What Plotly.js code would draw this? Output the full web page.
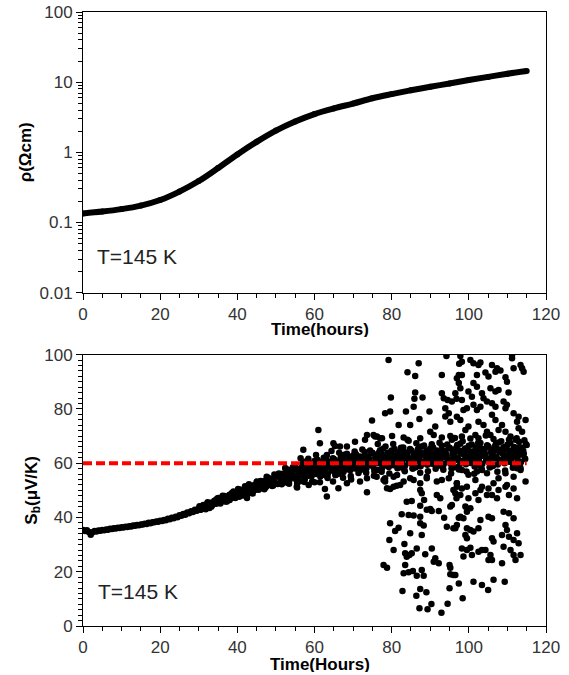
<!DOCTYPE html>
<html>
<head>
<meta charset="utf-8">
<script src="https://cdn.plot.ly/plotly-3.0.1.min.js"></script>
<style>html,body{margin:0;padding:0;background:#fff;}#chart{width:569px;height:675px;}</style>
</head>
<body>
<div id="chart"></div>
<script>
// ---- Top panel: resistivity vs time (log scale) ----
const rhoTime = [0, 5, 10, 15, 20, 25, 30, 35, 40, 45, 50, 55, 60, 65, 70, 75, 80, 85, 90, 95, 100, 105, 110, 115];
const rhoValue = [0.1346, 0.1429, 0.1549, 0.1738, 0.2089, 0.2754, 0.389, 0.5957, 0.933, 1.41, 2.04, 2.75, 3.51, 4.22, 4.95, 5.89, 6.76, 7.67, 8.61, 9.55, 10.72, 11.89, 13.18, 14.45];
const rhoTickVals = [0.01, 0.1, 1, 10, 100];
const rhoTickText = ['0.01', '0.1', '1', '10', '100'];

// ---- Bottom panel: Seebeck coefficient vs time ----
const sbEarlyTime = [
  0,0.5,1,1.5,2,2.5,3,3.5,4,4.5, 5,5.5,6,6.5,7,7.5,8,8.5,9,9.5,
  10,10.5,11,11.5,12,12.5,13,13.5,14,14.5, 15,15.5,16,16.5,17,17.5,18,18.5,19,19.5,
  20,20.5,21,21.5,22,22.5,23,23.5,24,24.5, 25,25.5,26,26.5,27,27.5,28,28.5,29,29.5,
  30,30.5,31,31.5,32,32.5,33,33.5,34,34.5, 35,35.5,36,36.5,37,37.5,38,38.5,39,39.5,
  40,40.5,41,41.5,42,42.5,43,43.5,44,44.5, 45,45.5,46,46.5,47,47.5,48,48.5,49,49.5, 50
];
const sbEarlyValue = [
  35.4,35.0,35.3,34.6,33.6,34.5,35.0,34.8,35.2,35.1, 35.4,35.3,35.6,35.5,35.8,35.7,36.0,35.9,36.2,36.1,
  36.4,36.3,36.6,36.5,36.8,36.7,37.0,36.9,37.2,37.1, 37.4,37.4,37.7,37.6,38.0,37.9,38.2,38.2,38.5,38.4,
  38.8,38.7,39.1,39.0,39.5,39.3,39.9,39.7,40.3,40.1, 40.8,40.6,41.3,41.0,41.8,41.5,42.3,42.0,42.8,42.5,
  43.3,42.8,44.0,43.4,44.9,43.9,45.2,44.6,46.1,45.0, 46.4,45.8,47.3,46.0,47.6,46.8,48.4,47.2,48.9,47.9,
  49.5,47.6,50.1,48.6,50.6,47.2,51.2,49.6,51.8,50.2, 52.3,50.6,52.6,51.0,53.4,51.5,53.8,52.1,54.3,52.4, 55.0
];
const sbEarlyExtraTime = [
  31.2,32.8,34.3,35.1,36.2,37.0,38.0,39.0,40.2,41.0,42.0,43.0,44.0,45.0,46.0,47.0,47.6,48.0,49.0,49.6,
  30.2,31.8,32.3,33.3,34.8,35.6,36.7,37.3,38.6,39.5,40.7,41.5,42.7,43.5,44.6,45.5,46.4,47.3,48.4,49.3,
  30.1,30.6,31.1,31.6,32.1,32.6,33.1,33.6,34.1,34.6,35.1,35.6,36.1,36.6,37.1,37.6,38.1,38.6,39.1,39.6,
  40.1,40.6,41.1,41.6,42.1,42.6,43.1,43.6,44.1,44.6,45.1,45.6,46.1,46.6,47.1,47.6,48.1,48.6,49.1,49.6
];
const sbEarlyExtraValue = [
  44.6,43.5,46.3,47.2,48.0,45.9,46.4,49.6,50.5,48.2,51.5,52.2,48.8,53.2,53.4,50.4,55.0,54.6,51.6,55.8,
  44.1,43.0,45.6,44.0,47.0,45.1,47.9,45.9,49.0,47.2,50.2,48.1,51.0,49.0,52.0,50.2,53.1,51.0,54.0,51.8,
  43.4,43.0,44.3,43.8,44.7,44.0,45.4,44.9,45.7,45.3,46.7,46.0,47.0,46.2,47.6,47.1,48.3,47.3,48.4,47.6,
  49.2,48.4,49.9,48.7,49.9,49.0,50.6,50.0,51.3,50.2,51.5,50.5,52.2,51.4,52.9,51.8,53.0,52.1,53.7,53.0
];

const sbBandTime = [
  50,50.25,50.5,50.75,51,51.25,51.5,51.75,52,52.25,52.5,52.75,53,53.25,53.5,53.75,54,54.25,54.5,54.75,
  55,55.25,55.5,55.75,56,56.25,56.5,56.75,57,57.25,57.5,57.75,58,58.25,58.5,58.75,59,59.25,59.5,59.75,
  60,60.25,60.5,60.75,61,61.25,61.5,61.75,62,62.25,62.5,62.75,63,63.25,63.5,63.75,64,64.25,64.5,64.75,
  65,65.25,65.5,65.75,66,66.25,66.5,66.75,67,67.25,67.5,67.75,68,68.25,68.5,68.75,69,69.25,69.5,69.75,
  70,70.25,70.5,70.75,71,71.25,71.5,71.75,72,72.25,72.5,72.75,73,73.25,73.5,73.75,74,74.25,74.5,74.75,
  75,75.25,75.5,75.75,76,76.25,76.5,76.75,77,77.25,77.5,77.75,78,78.25,78.5,78.75,79,79.25,79.5,79.75,
  80,80.25,80.5,80.75,81,81.25,81.5,81.75,82,82.25,82.5,82.75,83,83.25,83.5,83.75,84,84.25,84.5,84.75,
  85,85.25,85.5,85.75,86,86.25,86.5,86.75,87,87.25,87.5,87.75,88,88.25,88.5,88.75,89,89.25,89.5,89.75,
  90,90.25,90.5,90.75,91,91.25,91.5,91.75,92,92.25,92.5,92.75,93,93.25,93.5,93.75,94,94.25,94.5,94.75,
  95,95.25,95.5,95.75,96,96.25,96.5,96.75,97,97.25,97.5,97.75,98,98.25,98.5,98.75,99,99.25,99.5,99.75,
  100,100.25,100.5,100.75,101,101.25,101.5,101.75,102,102.25,102.5,102.75,103,103.25,103.5,103.75,104,104.25,104.5,104.75,
  105,105.25,105.5,105.75,106,106.25,106.5,106.75,107,107.25,107.5,107.75,108,108.25,108.5,108.75,109,109.25,109.5,109.75,
  110,110.25,110.5,110.75,111,111.25,111.5,111.75,112,112.25,112.5,112.75,113,113.25,113.5,113.75,114,114.25,114.5,114.75,
  115
];
const sbBandValue = [
  55.5,52.4,52.3,56.2,54.9,53.8,52.2,56.1,56.0,52.9,54.5,55.9,57.7,52.8,53.7,56.8,55.9,55.7,54.8,57.9,
  58.5,54.0,52.7,57.0,57.8,53.3,55.5,59.1,59.9,55.9,54.2,60.6,57.9,55.9,55.6,57.9,59.7,55.2,57.4,59.3,
  60.8,56.3,56.0,61.3,59.3,57.6,55.1,60.5,60.2,55.7,57.8,59.6,62.1,55.2,56.2,60.5,59.2,58.9,57.5,61.8,
  61.5,57.0,55.6,59.9,60.6,56.1,58.2,61.8,62.6,58.4,56.7,63.1,60.3,58.3,57.9,60.1,61.9,57.4,59.5,61.4,
  62.8,58.3,58.0,63.3,61.3,59.6,57.1,62.5,62.2,57.7,59.8,61.6,64.1,57.2,58.2,62.5,61.2,60.9,59.5,63.8,
  63.8,58.6,57.1,61.9,62.7,57.5,60.0,64.0,64.8,60.0,58.1,65.3,62.1,59.7,59.4,61.8,63.8,58.6,61.0,63.1,
  64.7,59.5,59.2,65.2,62.8,60.8,58.1,64.1,63.7,58.5,61.0,63.0,65.8,57.8,59.1,63.9,62.3,61.9,60.4,65.2,
  64.8,59.6,58.0,62.8,63.6,58.5,60.9,64.9,65.7,60.9,58.9,66.1,62.9,60.5,60.1,62.6,64.6,59.4,61.8,63.8,
  65.4,60.2,59.8,65.8,63.5,61.5,58.7,64.7,64.3,59.1,61.6,63.6,66.4,58.4,59.6,64.4,62.8,62.5,60.9,65.7,
  65.7,59.8,58.0,63.4,64.4,58.5,61.2,65.7,66.7,61.3,59.0,67.2,63.6,60.9,60.5,63.2,65.4,59.6,62.3,64.6,
  66.4,60.6,60.1,66.9,64.2,62.0,58.8,65.6,65.1,59.3,62.0,64.3,67.4,58.4,59.8,65.2,63.4,63.0,61.2,66.6,
  66.2,60.3,58.5,63.9,64.8,59.0,61.7,66.2,67.1,61.7,59.5,67.6,64.0,61.3,60.9,63.6,65.9,60.0,62.7,65.0,
  66.8,61.0,60.5,67.3,64.6,62.4,59.2,66.0,65.6,59.7,62.4,64.7,67.9,58.9,60.3,65.7,63.9,63.5,61.7,67.1,
  66.7
];

// additional readings in the core of the band
const sbCoreTime = [
  52.1,52.6,53.1,53.6,54.1,54.6,55.1,55.6,56.1,56.6,57.1,57.6,58.1,58.6,59.1,59.6,60.1,60.6,61.1,61.6,
  62.1,62.6,63.1,63.6,64.1,64.6,65.1,65.6,66.1,66.6,67.1,67.6,68.1,68.6,69.1,69.6,70.1,70.6,71.1,71.6,
  72.1,72.6,73.1,73.6,74.1,74.6,75.1,75.6,76.1,76.6,77.1,77.6,78.1,78.6,79.1,79.6,80.1,80.6,81.1,81.6,
  82.1,82.6,83.1,83.6,84.1,84.6,85.1,85.6,86.1,86.6,87.1,87.6,88.1,88.6,89.1,89.6,90.1,90.6,91.1,91.6,
  92.1,92.6,93.1,93.6,94.1,94.6,95.1,95.6,96.1,96.6,97.1,97.6,98.1,98.6,99.1,99.6,100.1,100.6,101.1,101.6,
  102.1,102.6,103.1,103.6,104.1,104.6,105.1,105.6,106.1,106.6,107.1,107.6,108.1,108.6,109.1,109.6,110.1,110.6,111.1,111.6,
  112.1,112.6,113.1,113.6,114.1,114.6
];
const sbCoreValue = [
  55.1,54.2,56.6,55.3,56.3,54.7,58.3,55.4,56.6,57.9,56.3,58.6,55.3,58.1,56.6,59.9,57.7,59.2,56.8,58.7,
  58.9,57.3,60.5,58.5,59.7,57.3,61.3,58.2,59.4,60.5,58.9,61.1,57.7,60.4,58.8,62.0,59.7,61.2,58.8,60.7,
  60.9,59.3,62.5,60.5,61.7,59.3,63.6,60.1,61.3,62.6,60.6,63.1,59.1,62.2,60.2,63.9,61.1,62.8,60.0,62.1,
  62.3,60.4,64.0,61.7,62.9,60.2,64.6,61.0,62.2,63.5,61.5,63.9,59.9,62.9,61.0,64.6,61.8,63.4,60.7,62.7,
  62.9,61.0,64.6,62.2,63.5,60.7,65.4,61.4,62.8,64.2,62.0,64.7,60.2,63.6,61.4,65.5,62.4,64.2,61.0,63.3,
  63.6,61.3,65.4,62.7,64.1,61.0,65.9,61.9,63.3,64.6,62.4,65.1,60.6,64.0,61.8,65.9,62.8,64.6,61.5,63.8,
  64.0,61.8,65.9,63.2,64.6,61.5
];

// readings on the upper and lower fringe of the band
const sbFringeTime = [
  52.4,53.4,54.4,55.4,56.4,57.4,58.4,59.4,60.4,61.4,62.4,63.4,64.4,65.4,66.4,67.4,68.4,69.4,70.4,71.4,
  72.4,73.4,74.4,75.4,76.4,77.4,78.4,79.4,80.4,81.4,82.4,83.4,84.4,85.4,86.4,87.4,88.4,89.4,90.4,91.4,
  92.4,93.4,94.4,95.4,96.4,97.4,98.4,99.4,100.4,101.4,102.4,103.4,104.4,105.4,106.4,107.4,108.4,109.4,110.4,111.4,
  112.4,113.4,114.4
];
const sbFringeValue = [
  58.2,52.4,58.5,51.3,61.8,53.1,61.6,53.2,63.0,53.0,62.0,54.5,64.5,55.6,63.8,54.6,63.5,55.3,64.3,56.4,
  65.0,56.5,64.7,55.4,67.1,56.8,66.1,56.2,67.1,55.6,65.7,57.0,68.3,58.0,67.3,56.5,66.5,57.0,67.0,57.9,
  67.5,57.6,66.9,56.2,69.3,57.7,68.1,56.9,69.1,56.1,67.4,57.5,70.2,58.5,68.9,56.8,68.1,57.3,68.6,58.3,
  69.2,58.0,68.4
];

const sbScatterTime = [
  57.1,61.0,61.4,63.2,64.9,65.3,66.6,68.4,70.5,73.1,73.6,74.9,75.3,75.7,76.2,77.5,77.0,
  63.2,62.7,66.2,68.4,71.8,73.6,73.6,60.0,64.8,69.5,58.5,55.5,78.3,78.8,77.9,
  79.2,87.0,84.1,86.1,93.0,94.2,97.8,97.4,86.1,79.8,85.9,88.0,93.0,93.5,94.5,95.6,96.8,85.7,83.7,79.6,78.3,89.8,93.9,94.8,93.9,87.2,81.8,84.8,91.3,95.2,90.0,90.9,80.1,83.1,84.1,87.4,93.0,95.2,95.6,
  76.1,78.3,80.5,83.1,84.8,87.4,89.1,91.7,94.8,96.9,80.5,82.2,85.7,89.1,93.0,
  79.6,81.3,87.4,87.8,96.0,96.5,96.8,83.9,85.2,88.4,91.7,92.6,87.4,89.1,90.0,90.4,92.2,95.2,95.6,82.6,84.4,85.7,87.4,93.6,97.4,79.6,87.4,88.3,94.3,96.0,81.8,80.9,84.8,87.8,79.4,83.3,80.5,86.5,90.4,83.5,84.6,85.2,83.9,88.7,91.3,90.9,92.2,83.5,77.9,78.8,95.0,95.2,83.1,84.4,85.5,86.5,88.3,87.8,95.2,96.0,97.4,95.0,82.8,87.4,89.0,86.4,94.5,90.3,87.2,89.3,92.9,
  111.2,111.2,98.2,100.4,101.2,102.5,103.0,97.5,106.0,107.3,106.9,108.2,113.4,113.8,114.2,111.6,102.1,104.3,105.1,98.2,96.9,109.5,109.9,97.4,97.8,101.2,102.1,105.6,106.9,107.7,99.9,100.8,103.4,103.8,110.3,96.5,98.2,104.7,106.0,106.9,109.0,109.9,109.5,101.2,102.1,103.0,98.6,99.5,111.6,112.9,112.5,114.7,106.0,106.9,96.9,97.8,102.5,103.8,99.9,99.1,108.6,107.7,109.5,112.9,113.8,104.7,105.6,101.7,102.5,110.8,112.1,98.2,
  98.2,99.9,101.7,104.7,107.7,109.5,111.6,113.4,114.7,109.9,96.9,106.4,102.1,112.5,
  96.9,98.2,99.5,97.8,99.9,101.7,103.0,103.4,104.7,102.5,105.1,106.0,107.3,107.7,109.5,110.4,111.6,112.5,
  99.1,100.4,99.5,97.8,98.6,103.0,105.1,106.0,109.0,110.4,111.6,96.9,96.5,99.5,100.4,101.2,102.5,
  109.5,109.9,108.6,110.4,112.5,111.6,112.9,106.0,106.4,99.1,99.5,98.2,99.5,100.4,102.5,103.4,104.3,105.6,106.0,105.1,
  100.8,98.6,109.0,110.8,111.6,113.4,112.1,108.6,96.5,101.2,103.4,105.0,106.4,109.3,98.4
];
const sbScatterValue = [
  64.9,72.2,67.3,63.0,67.3,66.3,66.1,66.1,67.9,68.6,70.4,75.7,70.4,69.8,69.8,69.2,69.2,
  47.7,50.5,50.8,52.6,53.2,49.3,54.4,53.0,53.2,54.0,52.0,51.0,53.2,50.8,53.8,
  98.0,96.8,93.5,92.1,92.5,99.5,99.5,92.5,86.0,84.2,83.7,84.2,85.8,83.9,83.3,82.7,83.7,80.8,79.0,79.0,78.4,79.0,80.2,78.4,77.2,76.3,74.1,74.1,73.5,75.3,71.6,70.4,70.0,69.5,68.6,69.2,69.5,70.0,68.6,
  55.0,54.4,51.3,53.2,54.4,52.6,54.4,53.2,54.4,52.6,55.0,52.0,53.8,55.0,53.8,
  50.5,51.7,50.1,48.9,50.1,48.9,47.1,45.8,46.1,46.4,48.3,47.1,44.3,42.8,43.1,42.4,42.4,44.0,44.6,41.2,40.9,40.7,40.3,39.9,39.9,37.9,37.9,37.0,36.6,36.0,36.2,35.0,34.2,33.5,31.7,30.2,28.0,28.6,28.6,26.8,26.2,26.8,25.5,26.4,25.0,23.7,23.1,22.5,22.5,21.5,22.5,21.5,19.4,19.8,20.3,18.5,18.5,20.6,19.1,18.8,15.7,13.9,12.9,13.6,12.4,11.1,8.2,8.1,6.5,6.2,4.9,
  99.9,98.7,97.4,98.0,96.8,96.2,97.1,96.6,96.2,95.0,93.7,94.1,96.2,95.0,93.7,95.0,92.5,93.4,91.9,92.5,91.3,91.7,90.0,89.5,87.6,89.5,88.2,87.6,86.4,87.0,86.4,84.5,85.8,83.9,86.0,85.8,83.3,82.7,82.1,80.8,82.7,81.5,80.2,81.5,79.6,80.8,79.6,80.2,78.4,77.1,75.3,75.9,77.8,75.9,77.1,75.9,75.3,74.1,73.5,72.2,74.1,72.2,71.6,72.9,71.6,71.6,70.4,70.4,69.2,69.8,68.6,69.8,
  57.5,55.7,53.8,56.3,54.4,56.3,55.0,57.5,53.2,52.0,52.6,52.6,56.9,58.1,
  51.3,50.7,51.3,48.3,47.1,48.9,50.1,51.3,48.3,46.4,50.7,48.3,47.1,50.1,51.3,48.3,50.7,47.1,
  44.0,43.4,42.1,40.3,39.7,39.1,40.3,39.7,42.1,41.5,39.7,37.2,36.0,36.0,35.4,34.8,36.0,
  37.2,35.4,33.5,32.9,34.2,31.7,30.5,32.3,31.1,33.5,32.3,28.6,28.0,28.8,27.4,28.0,28.0,26.2,24.3,24.3,
  26.2,25.6,29.2,28.0,26.2,26.2,24.3,23.1,18.8,16.3,15.1,13.3,17.0,16.3,10.2
];

const refLineTime = [0, 115];
const refLineValue = [60, 60];

const FONT = 'Liberation Sans, Arial, sans-serif';
const tickFont = {family: FONT, size: 17, color: '#333'};
const titleFont = {family: FONT, size: 17, color: '#000'};

const traces = [
  {
    x: rhoTime, y: rhoValue, xaxis: 'x', yaxis: 'y',
    mode: 'lines+markers', type: 'scatter',
    line: {color: '#000', width: 6, shape: 'spline'},
    marker: {color: '#000', size: 6},
    hoverinfo: 'skip'
  },
  {
    x: sbEarlyTime.concat(sbEarlyExtraTime, sbBandTime, sbCoreTime, sbFringeTime, sbScatterTime),
    y: sbEarlyValue.concat(sbEarlyExtraValue, sbBandValue, sbCoreValue, sbFringeValue, sbScatterValue),
    xaxis: 'x2', yaxis: 'y2',
    mode: 'markers', type: 'scatter',
    marker: {color: '#000', size: 6.5},
    hoverinfo: 'skip'
  },
  {
    x: refLineTime, y: refLineValue, xaxis: 'x2', yaxis: 'y2',
    mode: 'lines', type: 'scatter',
    line: {color: '#ff0000', width: 4, dash: '9px,4px'},
    hoverinfo: 'skip'
  }
];

const commonX = {
  range: [0, 120], dtick: 20, tick0: 0,
  ticks: 'outside', ticklen: 6, tickwidth: 1, tickcolor: '#000',
  minor: {dtick: 5, ticks: 'outside', ticklen: 4, tickcolor: '#000', showgrid: false},
  showline: true, linecolor: '#000', linewidth: 1, mirror: true,
  showgrid: false, zeroline: false, tickfont: tickFont, automargin: false
};

const layout = {
  width: 569, height: 675,
  margin: {l: 83, r: 23, t: 12, b: 49},
  paper_bgcolor: '#fff', plot_bgcolor: '#fff',
  showlegend: false,
  font: {family: FONT},
  xaxis: Object.assign({}, commonX, {domain: [0, 1], anchor: 'y'}),
  yaxis: {
    type: 'log', range: [-2, 2], domain: [0.543, 1], anchor: 'x',
    tickvals: rhoTickVals, ticktext: rhoTickText,
    ticks: 'outside', ticklen: 6, tickwidth: 1, tickcolor: '#000',
    minor: {dtick: 'D1', ticks: 'outside', ticklen: 4, tickcolor: '#000', showgrid: false},
    showline: true, linecolor: '#000', linewidth: 1, mirror: true,
    showgrid: false, zeroline: false, tickfont: tickFont, automargin: false,
    title: {text: '<b>ρ(Ωcm)</b>', font: titleFont, standoff: 3}
  },
  xaxis2: Object.assign({}, commonX, {domain: [0, 1], anchor: 'y2'}),
  yaxis2: {
    range: [0, 100], domain: [0, 0.442], anchor: 'x2',
    dtick: 20, tick0: 0,
    ticks: 'outside', ticklen: 6, tickwidth: 1, tickcolor: '#000',
    minor: {dtick: 2, ticks: 'outside', ticklen: 4, tickcolor: '#000', showgrid: false},
    showline: true, linecolor: '#000', linewidth: 1, mirror: true,
    showgrid: false, zeroline: false, tickfont: tickFont, automargin: false,
    title: {text: '<b>S<sub>b</sub>(μV/K)</b>', font: titleFont, standoff: 2}
  },
  annotations: [
    {text: '<b>Time(hours)</b>', xref: 'paper', yref: 'paper', x: 0.512, y: 0.4837,
     xanchor: 'center', yanchor: 'middle', showarrow: false, borderpad: 0, height: 15, font: titleFont},
    {text: '<b>Time(Hours)</b>', xref: 'paper', yref: 'paper', x: 0.512, y: -0.0619,
     xanchor: 'center', yanchor: 'middle', showarrow: false, borderpad: 0, height: 15, font: titleFont},
    {text: 'T=145 K', xref: 'paper', yref: 'paper', x: 0.026, y: 0.6026,
     xanchor: 'left', yanchor: 'middle', showarrow: false,
     font: {family: FONT, size: 21, color: '#222'}},
    {text: 'T=145 K', xref: 'paper', yref: 'paper', x: 0.027, y: 0.0562,
     xanchor: 'left', yanchor: 'middle', showarrow: false,
     font: {family: FONT, size: 21, color: '#222'}}
  ]
};

Plotly.newPlot('chart', traces, layout, {staticPlot: true, displayModeBar: false});
</script>
</body>
</html>
